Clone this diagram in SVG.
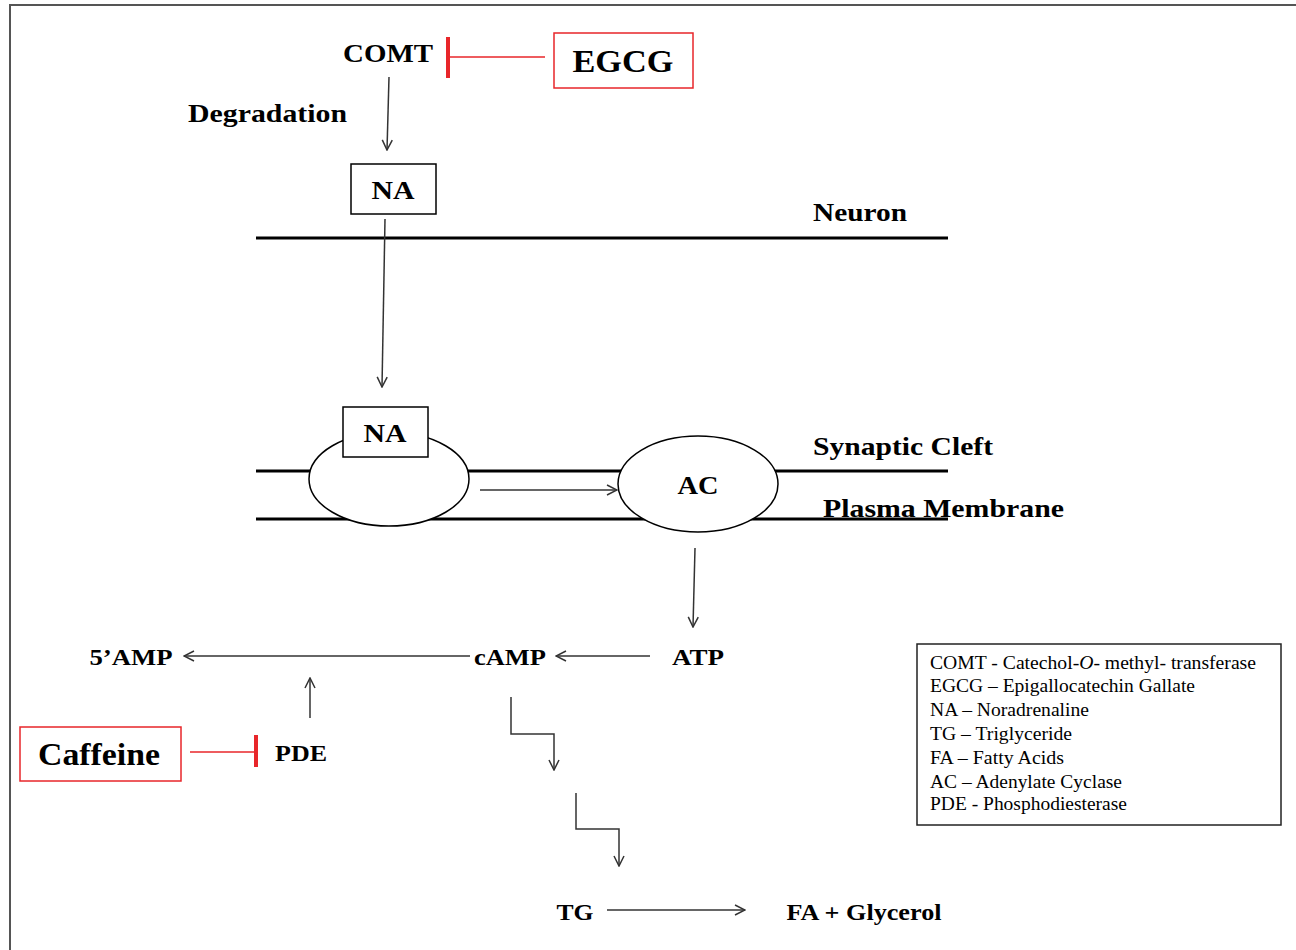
<svg xmlns="http://www.w3.org/2000/svg" width="1296" height="950" viewBox="0 0 1296 950">
<style>
.b{font-family:"Liberation Serif","Times New Roman",serif;font-weight:bold;fill:#000}
.r{font-family:"Liberation Serif","Times New Roman",serif;font-size:18.5px;fill:#000}
.ln{stroke:#333;stroke-width:1.5;fill:none}
.mem{stroke:#000;stroke-width:3}
.red{stroke:#e8262a;stroke-width:1.5;fill:none}
.bar{stroke:#e8262a;stroke-width:4}
.box{fill:#fff;stroke:#000;stroke-width:1.5}
.rbox{fill:#fff;stroke:#e8262a;stroke-width:1.5}
</style>
<defs>
<marker id="ah" viewBox="0 0 12 12" refX="11" refY="6" markerWidth="12" markerHeight="12" markerUnits="userSpaceOnUse" orient="auto">
<path d="M1,1 L11,6 L1,11" fill="none" stroke="#333" stroke-width="1.5"/>
</marker>
</defs>
<rect width="1296" height="950" fill="#fff"/>
<path d="M10,950 V5 H1296" fill="none" stroke="#555" stroke-width="2"/>

<g id="membranes">
<line class="mem" x1="256" y1="238" x2="948" y2="238"/>
<line class="mem" x1="256" y1="471" x2="948" y2="471"/>
<line class="mem" x1="256" y1="519" x2="948" y2="519"/>
<text class="b" x="813" y="221" font-size="25" textLength="94" lengthAdjust="spacingAndGlyphs">Neuron</text>
<text class="b" x="813" y="455" font-size="25" textLength="180" lengthAdjust="spacingAndGlyphs">Synaptic Cleft</text>
<text class="b" x="823" y="517" font-size="25" textLength="241" lengthAdjust="spacingAndGlyphs">Plasma Membrane</text>
</g>

<g id="connectors">
<line class="ln" x1="389" y1="77" x2="387" y2="150" marker-end="url(#ah)"/>
<line class="ln" x1="385" y1="219" x2="382" y2="387" marker-end="url(#ah)"/>
<line class="ln" x1="480" y1="490" x2="617" y2="490" marker-end="url(#ah)"/>
<line class="ln" x1="695" y1="548" x2="693" y2="627" marker-end="url(#ah)"/>
<line class="ln" x1="650" y1="656" x2="556" y2="656" marker-end="url(#ah)"/>
<line class="ln" x1="470" y1="656" x2="184" y2="656" marker-end="url(#ah)"/>
<line class="ln" x1="310" y1="718" x2="310" y2="678" marker-end="url(#ah)"/>
<path class="ln" d="M511,697 V734 H554 V770" marker-end="url(#ah)"/>
<path class="ln" d="M576,793 V829 H619 V866" marker-end="url(#ah)"/>
<line class="ln" x1="607" y1="910" x2="745" y2="910" marker-end="url(#ah)"/>
<line class="red" x1="448" y1="57" x2="545" y2="57"/>
<line class="bar" x1="448" y1="37" x2="448" y2="78"/>
<line class="red" x1="190" y1="752" x2="255" y2="752"/>
<line class="bar" x1="256" y1="735" x2="256" y2="767"/>
</g>

<g id="comt"><text class="b" x="388" y="62" font-size="26" text-anchor="middle" textLength="90" lengthAdjust="spacingAndGlyphs">COMT</text></g>
<g id="egcg">
<rect class="rbox" x="554" y="33" width="139" height="55"/>
<text class="b" x="623" y="72" font-size="31" text-anchor="middle" textLength="101" lengthAdjust="spacingAndGlyphs">EGCG</text>
</g>
<g id="degradation"><text class="b" x="188" y="122" font-size="25" textLength="159" lengthAdjust="spacingAndGlyphs">Degradation</text></g>
<g id="na1">
<rect class="box" x="351" y="164" width="85" height="50"/>
<text class="b" x="393" y="199" font-size="26" text-anchor="middle" textLength="43" lengthAdjust="spacingAndGlyphs">NA</text>
</g>
<g id="receptor">
<ellipse class="box" cx="389" cy="479" rx="80" ry="47"/>
</g>
<g id="na2">
<rect class="box" x="343" y="407" width="85" height="50"/>
<text class="b" x="385" y="442" font-size="26" text-anchor="middle" textLength="43" lengthAdjust="spacingAndGlyphs">NA</text>
</g>
<g id="ac">
<ellipse class="box" cx="698" cy="484" rx="80" ry="48"/>
<text class="b" x="698" y="494" font-size="26" text-anchor="middle" textLength="41" lengthAdjust="spacingAndGlyphs">AC</text>
</g>
<g id="atp"><text class="b" x="698" y="665" font-size="24" text-anchor="middle" textLength="52" lengthAdjust="spacingAndGlyphs">ATP</text></g>
<g id="camp"><text class="b" x="510" y="665" font-size="24" text-anchor="middle" textLength="72" lengthAdjust="spacingAndGlyphs">cAMP</text></g>
<g id="amp5"><text class="b" x="131" y="665" font-size="24" text-anchor="middle" textLength="83" lengthAdjust="spacingAndGlyphs">5’AMP</text></g>
<g id="pde"><text class="b" x="301" y="761" font-size="24" text-anchor="middle" textLength="52" lengthAdjust="spacingAndGlyphs">PDE</text></g>
<g id="caffeine">
<rect class="rbox" x="20" y="727" width="161" height="54"/>
<text class="b" x="99" y="765" font-size="31" text-anchor="middle" textLength="122" lengthAdjust="spacingAndGlyphs">Caffeine</text>
</g>
<g id="tg"><text class="b" x="575" y="920" font-size="24" text-anchor="middle" textLength="37" lengthAdjust="spacingAndGlyphs">TG</text></g>
<g id="fa"><text class="b" x="864" y="920" font-size="24" text-anchor="middle" textLength="155" lengthAdjust="spacingAndGlyphs">FA + Glycerol</text></g>
<g id="legend">
<rect x="917" y="644" width="364" height="181" fill="#fff" stroke="#222" stroke-width="1.5"/>
<text class="r" x="930" y="669" textLength="326" lengthAdjust="spacingAndGlyphs">COMT - Catechol-<tspan font-style="italic">O</tspan>- methyl- transferase</text>
<text class="r" x="930" y="692" textLength="265" lengthAdjust="spacingAndGlyphs">EGCG – Epigallocatechin Gallate</text>
<text class="r" x="930" y="716" textLength="159" lengthAdjust="spacingAndGlyphs">NA – Noradrenaline</text>
<text class="r" x="930" y="740" textLength="142" lengthAdjust="spacingAndGlyphs">TG – Triglyceride</text>
<text class="r" x="930" y="764" textLength="134" lengthAdjust="spacingAndGlyphs">FA – Fatty Acids</text>
<text class="r" x="930" y="788" textLength="192" lengthAdjust="spacingAndGlyphs">AC – Adenylate Cyclase</text>
<text class="r" x="930" y="810" textLength="197" lengthAdjust="spacingAndGlyphs">PDE - Phosphodiesterase</text>
</g>
</svg>
